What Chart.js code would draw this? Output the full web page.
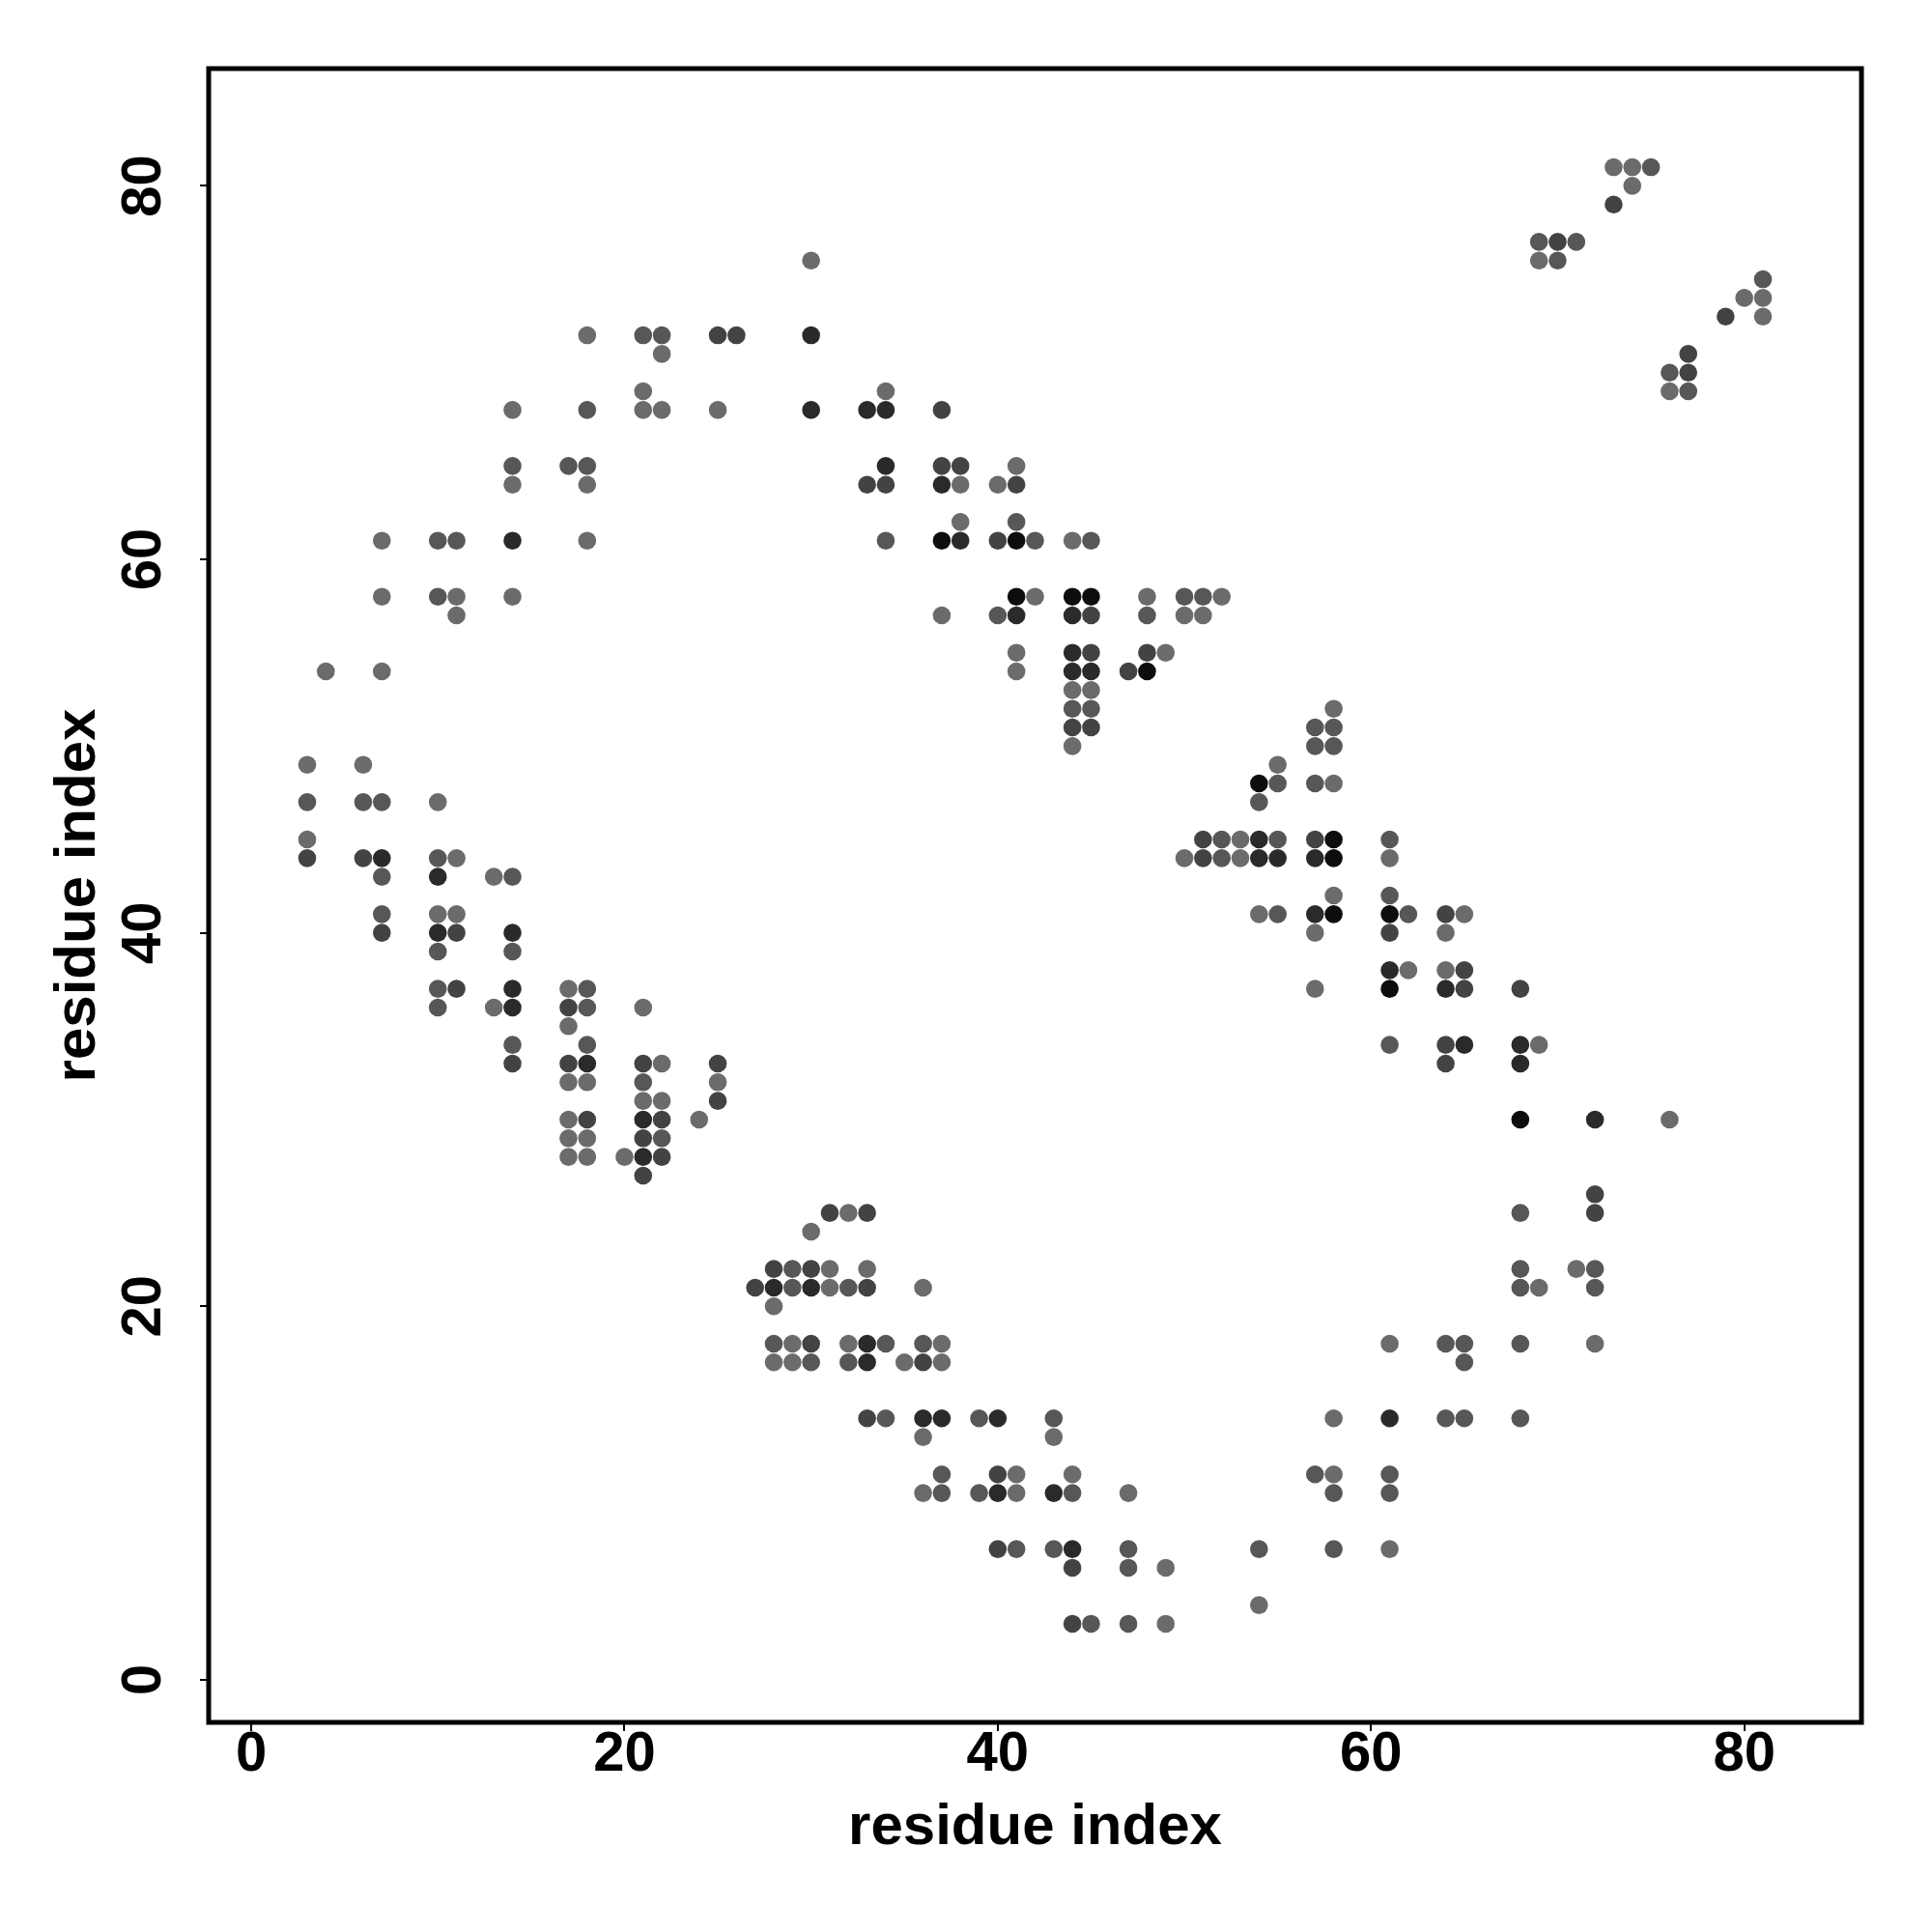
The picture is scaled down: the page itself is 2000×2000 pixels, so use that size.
<!DOCTYPE html>
<html>
<head>
<meta charset="utf-8">
<script src="https://cdn.jsdelivr.net/npm/chart.js@4/dist/chart.umd.min.js"></script>
<style>html,body{margin:0;padding:0;background:#fff}canvas{display:block}</style>
</head>
<body>
<canvas id="c" width="2000" height="2000"></canvas>
<script>
// Contact pairs [i, j] grouped by grey level (1 = lightest, 5 = black)
const level1 = [[18,72],[22,71],[21,69],[14,68],[21,68],[22,68],[25,68],[14,64],[18,64],[7,61],[18,61],[7,58],[11,58],[14,58],[11,57],
  [30,76],[34,69],[38,64],[41,65],[40,64],[38,62],[44,61],[42,58],[48,58],[52,58],[37,57],[50,57],[51,57],
  [73,81],[74,81],[74,80],[69,76],[80,74],[81,74],[81,73],[76,69],
  [4,54],[7,54],[3,49],[6,49],[10,47],[3,45],[11,44],[13,43],[10,41],[11,41],[17,37],[13,36],[21,36],[17,35],[22,33],[17,32],[18,32],[25,32],[21,31],[22,31],[17,30],[24,30],[17,29],[18,29],[17,28],[18,28],[20,28],
  [28,20],[28,17],[32,25],[30,24],[31,22],[33,22],[31,21],[36,21],[29,18],[32,18],[37,18],[29,17],[35,17],[37,17],[36,13],[43,13],[41,11],[44,11],[36,10],[41,10],[47,10],[49,6],[54,4],[49,3],
  [41,55],[49,55],[41,54],[44,53],[45,53],[44,50],[55,49],[53,45],[50,44],[53,44],[54,41],
  [58,52],[58,48],[61,44],[58,42],[65,41],[57,40],[64,40],[62,38],[64,38],[57,37],[69,34],[76,30],
  [71,22],[69,21],[61,18],[72,18],[58,14],[58,11],[61,7]];
const level2 = [[21,72],[22,72],[18,68],[14,65],[17,65],[18,65],[10,61],[11,61],[10,58],
  [34,61],[42,61],[41,62],[45,61],[40,57],[48,57],[50,58],[51,58],
  [75,81],[69,77],[71,77],[70,76],[81,75],[76,70],[77,69],
  [3,47],[6,47],[7,47],[10,44],[7,43],[14,43],[7,41],[10,39],[14,39],[10,37],[18,37],[10,36],[18,36],[14,34],[18,34],[21,32],[22,29],
  [28,18],[29,22],[29,21],[32,21],[34,18],[36,18],[30,17],[32,17],[34,14],[39,14],[43,14],[37,11],[37,10],[39,10],[44,10],[41,7],[43,7],[47,7],[54,7],[47,6],[45,3],[47,3],
  [44,52],[45,52],[55,48],[54,47],[52,45],[55,45],[52,44],[55,41],
  [57,51],[58,51],[57,50],[58,50],[57,48],[61,45],[61,42],[62,41],[61,34],
  [68,25],[68,22],[72,22],[68,21],[72,21],[64,18],[65,18],[68,18],[65,17],[64,14],[65,14],[68,14],[57,11],[61,11],[58,10],[61,10],[58,7]];
const level3 = [[25,72],[26,72],
  [37,68],[33,64],[34,64],[37,65],[38,65],[41,64],[40,61],[45,57],
  [73,79],[70,77],[79,73],[77,71],[77,70],
  [3,44],[6,44],[7,40],[11,40],[11,37],[17,36],[14,33],[17,33],[21,33],[25,33],[25,31],[18,30],[22,30],[21,29],[22,28],[21,27],
  [28,22],[27,21],[30,22],[33,21],[31,25],[33,25],[30,18],[36,17],[33,14],[40,11],[40,7],[44,6],[44,3],
  [45,55],[48,55],[47,54],[44,51],[45,51],[51,45],[51,44],
  [57,45],[64,41],[61,40],[65,38],[65,37],[68,37],[64,34],[64,33],
  [72,26],[72,25]];
const level4 = [[14,61],[30,72],[30,68],[33,68],[34,68],[34,65],[37,64],[38,61],[41,57],[44,57],
  [7,44],[10,43],[10,40],[14,40],[14,37],[14,36],[18,33],[21,30],[21,28],
  [28,21],[30,21],[33,18],[33,17],[36,14],[37,14],[40,14],[40,10],[43,10],[44,7],
  [44,55],[44,54],[45,54],[54,45],[54,44],[55,44],
  [57,44],[57,41],[61,38],[64,37],[65,34],[68,34],[68,33],[72,30],[61,14]];
const level5 = [[37,61],[41,61],[41,58],[44,58],[45,58],[48,54],[54,48],[58,45],[58,44],[58,41],[61,41],[61,37],[68,30]];

const levels = [level1, level2, level3, level4, level5];
const levelColors = ['#6b6b6b', '#575757', '#434343', '#2a2a2a', '#0d0d0d'];
const tickValues = [0, 20, 40, 60, 80];
const xTitle = 'residue index';
const yTitle = 'residue index';
const axisMin = -2.28, axisMax = 86.28;

const FONT = '"Liberation Sans", Arial, Helvetica, sans-serif';

const boxPlugin = {
  id: 'box',
  afterDatasetsDraw(chart) {
    const {ctx, chartArea: a} = chart;
    ctx.save();
    ctx.strokeStyle = '#000';
    ctx.lineWidth = 5;
    ctx.strokeRect(a.left, a.top, a.right - a.left, a.bottom - a.top);
    ctx.restore();
  }
};

const datasets = levels.map((arr, i) => ({
  label: 'level ' + (i + 1),
  data: arr.map(([x, y]) => ({x, y})),
  backgroundColor: levelColors[i],
  borderWidth: 0,
  pointRadius: 9.3,
  pointHoverRadius: 9.3,
  showLine: false
}));

const setTicks = s => { s.ticks = tickValues.map(v => ({value: v})); };

new Chart(document.getElementById('c'), {
  type: 'scatter',
  data: {datasets},
  options: {
    responsive: false,
    devicePixelRatio: 1,
    animation: false,
    layout: {padding: {left: 0, top: 71, right: 73, bottom: 0}},
    plugins: {legend: {display: false}, tooltip: {enabled: false}},
    scales: {
      x: {
        type: 'linear', position: 'bottom', min: axisMin, max: axisMax,
        afterBuildTicks: setTicks,
        afterFit: s => { s.height = 217; },
        grid: {drawOnChartArea: false, drawTicks: true, tickLength: 9, color: '#000', lineWidth: 2},
        border: {display: false},
        ticks: {color: '#000', padding: -4, minRotation: 0, maxRotation: 0,
          font: {family: FONT, weight: 'bold', size: 58, lineHeight: 1}},
        title: {display: true, text: xTitle, color: '#000',
          font: {family: FONT, weight: 'bold', size: 60, lineHeight: 1},
          padding: {top: 0, bottom: 78}}
      },
      y: {
        type: 'linear', position: 'left', min: axisMin, max: axisMax,
        afterBuildTicks: setTicks,
        afterFit: s => { s.width = 216; },
        grid: {drawOnChartArea: false, drawTicks: true, tickLength: 9, color: '#000', lineWidth: 2},
        border: {display: false},
        ticks: {color: '#000', padding: 25, minRotation: 90, maxRotation: 90, crossAlign: 'center',
          font: {family: FONT, weight: 'bold', size: 58, lineHeight: 1}},
        title: {display: true, text: yTitle, color: '#000',
          font: {family: FONT, weight: 'bold', size: 60, lineHeight: 1},
          padding: {top: 51, bottom: 0}}
      }
    }
  },
  plugins: [boxPlugin]
});
</script>
</body>
</html>
